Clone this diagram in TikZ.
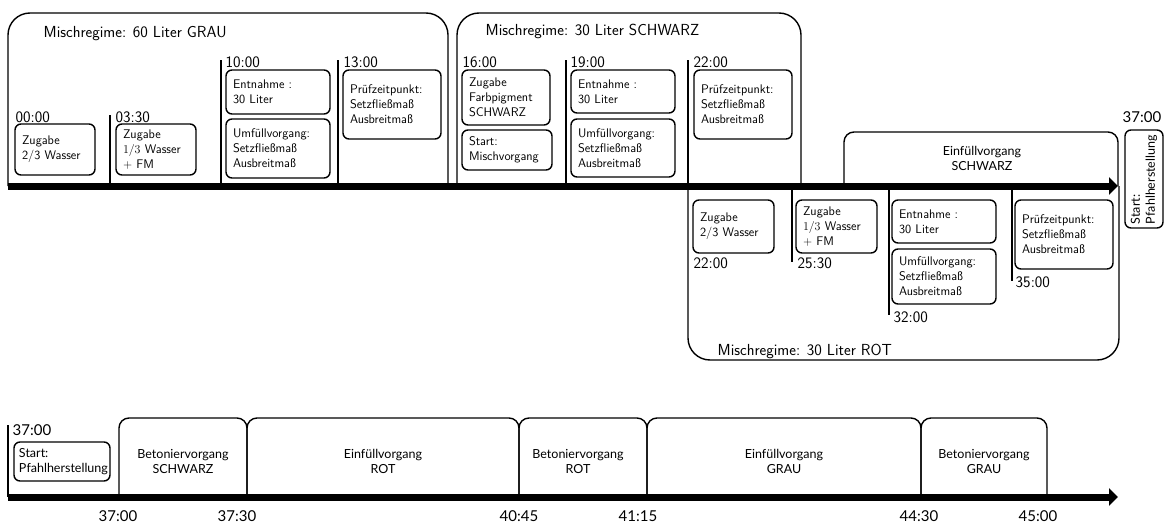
\documentclass[tikz,border=0pt]{standalone}
\usepackage{fontspec}
\newfontfamily\lato{Lato}
\usetikzlibrary{arrows.meta}
\tikzset{
  every picture/.style={line width=1.4pt},
  tbox/.style={draw, rounded corners=6, align=left, inner xsep=7, inner ysep=0,
    font=\sffamily\fontsize{12.5}{15}\selectfont},
  lbox/.style={tbox, inner xsep=5, font=\lato\fontsize{12.5}{15}\selectfont},
  regime/.style={draw, rounded corners=22},
  phase/.style={draw, rounded corners=10},
  tick/.style={draw},
  axis/.style={line width=7, -{Triangle[length=9,width=17]}},
  title/.style={anchor=base west, inner sep=0, font=\sffamily\fontsize{16}{19}\selectfont},
  time/.style={anchor=base west, inner sep=0, font=\sffamily\fontsize{16}{19}\selectfont},
  ltime/.style={anchor=base west, inner sep=0, font=\lato\fontsize{15}{18}\selectfont},
  btime/.style={anchor=base, inner sep=0, font=\lato\fontsize{15}{18}\selectfont},
  ptext/.style={align=center, inner sep=0, font=\lato\fontsize{12.5}{15}\selectfont},
}
\newcommand\mybox[7][tbox]{%
  \pgfmathsetmacro\bw{#5-#3}\pgfmathsetmacro\bh{#6-#4}%
  \pgfmathsetmacro\bcx{(#3+#5)/2}\pgfmathsetmacro\bcy{(#4+#6)/2}%
  \node[#1, text width=\bw pt-14pt, minimum height=\bh pt] (#2) at (\bcx,\bcy) {#7};}
\begin{document}
\begin{tikzpicture}[x=1pt,y=-1pt]
\useasboundingbox (0,0) rectangle (1165,522);

% ---------- top time line ----------
\coordinate (ta) at (8,186);
\coordinate (tb) at (1118,186);

% regime frames
\coordinate (g1) at (8,186);   \coordinate (g2) at (8,13);
\coordinate (g3) at (448,13);  \coordinate (g4) at (448,186);
\draw[regime] (g1) -- (g2) -- (g3) -- (g4);
\coordinate (s1) at (457,186); \coordinate (s2) at (457,13);
\coordinate (s3) at (801,13);  \coordinate (s4) at (801,186);
\draw[regime] (s1) -- (s2) -- (s3) -- (s4);
\coordinate (r1) at (688,186); \coordinate (r2) at (688,360);
\coordinate (r3) at (1119,360); \coordinate (r4) at (1119,186);
\draw[regime] (r1) -- (r2) -- (r3) -- (r4);
\coordinate (e1) at (844,186); \coordinate (e2) at (844,132);
\coordinate (e3) at (1118,132); \coordinate (e4) at (1118,186);
\draw[phase] (e1) -- (e2) -- (e3) -- (e4);

\node[title] (tg) at (43,37) {Mischregime: 60 Liter GRAU};
\node[title] (ts) at (485,35) {Mischregime: 30 Liter SCHWARZ};
\node[title] (tr) at (717,355) {Mischregime: 30 Liter ROT};
\node[ptext] (es) at (982,158) {Einfüllvorgang\\SCHWARZ};

% ticks above
\coordinate (k1a) at (110,115); \coordinate (k1b) at (110,186);
\coordinate (k2a) at (221,60);  \coordinate (k2b) at (221,186);
\coordinate (k3a) at (338,60);  \coordinate (k3b) at (338,186);
\coordinate (k4a) at (566,60);  \coordinate (k4b) at (566,186);
\coordinate (k5a) at (688,60);  \coordinate (k5b) at (688,186);
\draw[tick] (k1a) -- (k1b);
\draw[tick] (k2a) -- (k2b);
\draw[tick] (k3a) -- (k3b);
\draw[tick] (k4a) -- (k4b);
\draw[tick] (k5a) -- (k5b);
% ticks below
\coordinate (m1a) at (792,186);  \coordinate (m1b) at (792,262);
\coordinate (m2a) at (889,186);  \coordinate (m2b) at (889,315);
\coordinate (m3a) at (1012,186); \coordinate (m3b) at (1012,281);
\draw[tick] (m1a) -- (m1b);
\draw[tick] (m2a) -- (m2b);
\draw[tick] (m3a) -- (m3b);

\draw[axis] (ta) -- (tb);

% time labels
\node[time] (t0000) at (15,122) {00:00};
\node[time] (t0330) at (115,122) {03:30};
\node[time] (t1000) at (225,67) {10:00};
\node[time] (t1300) at (343,67) {13:00};
\node[time] (t1600) at (462,67) {16:00};
\node[time] (t1900) at (570,67) {19:00};
\node[time] (t2200) at (693,67) {22:00};
\node[time] (u2200) at (693,268) {22:00};
\node[time] (u2530) at (797,268) {25:30};
\node[time] (u3200) at (893,322) {32:00};
\node[time] (u3500) at (1015,287) {35:00};
\node[ltime] (t3700) at (1122,122) {37:00};

% boxes above
\mybox{a1}{15}{124}{95}{175}{Zugabe\\2/3 Wasser}
\mybox{a2}{116}{124}{196}{175}{Zugabe\\$1/3$ Wasser\\$+$ FM}
\mybox{a3}{226}{70}{330}{114}{Entnahme :\\30 Liter}
\mybox{a4}{226}{119}{330}{178}{Umfüllvorgang:\\Setzfließmaß\\Ausbreitmaß}
\mybox{a5}{343}{70}{441}{139}{Prüfzeitpunkt:\\Setzfließmaß\\Ausbreitmaß}
\mybox{b1}{462}{70}{550}{125}{Zugabe\\Farbpigment\\SCHWARZ}
\mybox{b2}{462}{130}{552}{170}{Start:\\Mischvorgang}
\mybox{b3}{571}{70}{675}{113}{Entnahme :\\30 Liter}
\mybox{b4}{571}{119}{675}{177}{Umfüllvorgang:\\Setzfließmaß\\Ausbreitmaß}
\mybox{b5}{694}{70}{792}{139}{Prüfzeitpunkt:\\Setzfließmaß\\Ausbreitmaß}
% boxes below
\mybox{c1}{693}{200}{774}{253}{Zugabe\\2/3 Wasser}
\mybox{c2}{796}{200}{877}{253}{Zugabe\\$1/3$ Wasser\\$+$ FM}
\mybox{c3}{892}{200}{996}{243}{Entnahme :\\30 Liter}
\mybox{c4}{892}{249}{996}{304}{Umfüllvorgang:\\Setzfließmaß\\Ausbreitmaß}
\mybox{c5}{1015}{200}{1113}{269}{Prüfzeitpunkt:\\Setzfließmaß\\Ausbreitmaß}
% rotated box
\node[lbox, rotate=90, text width=90pt, minimum height=38pt, inner xsep=4] (rs) at (1144,179) {Start:\\Pfahlherstellung};

% ---------- bottom time line ----------
\coordinate (ba) at (8,497);
\coordinate (bb) at (1118,497);
\coordinate (q0a) at (8,425); \coordinate (q0b) at (8,497);
\draw[tick] (q0a) -- (q0b);
\node[ltime] (b3700) at (12,435) {37:00};
\mybox[lbox]{d1}{12}{442}{112}{481}{Start:\\Pfahlherstellung}

\coordinate (p0) at (119,497); \coordinate (p0t) at (119,418);
\coordinate (p1) at (247,497); \coordinate (p1t) at (247,418);
\coordinate (p2) at (519,497); \coordinate (p2t) at (519,418);
\coordinate (p3) at (647,497); \coordinate (p3t) at (647,418);
\coordinate (p4) at (921,497); \coordinate (p4t) at (921,418);
\coordinate (p5) at (1047,497); \coordinate (p5t) at (1047,418);
\draw[phase] (p0) -- (p0t) -- (p1t) -- (p1);
\draw[phase] (p1) -- (p1t) -- (p2t) -- (p2);
\draw[phase] (p2) -- (p2t) -- (p3t) -- (p3);
\draw[phase] (p3) -- (p3t) -- (p4t) -- (p4);
\draw[phase] (p4) -- (p4t) -- (p5t) -- (p5);
\node[ptext] (bs) at (183,461) {Betoniervorgang\\SCHWARZ};
\node[ptext] (er) at (383,461) {Einfüllvorgang\\ROT};
\node[ptext] (br) at (578,461) {Betoniervorgang\\ROT};
\node[ptext] (eg) at (784,461) {Einfüllvorgang\\GRAU};
\node[ptext] (bg) at (984,461) {Betoniervorgang\\GRAU};

\draw[axis] (ba) -- (bb);

\node[btime] (l1) at (118,521) {37:00};
\node[btime] (l2) at (237,521) {37:30};
\node[btime] (l3) at (519,521) {40:45};
\node[btime] (l4) at (638,521) {41:15};
\node[btime] (l5) at (919,521) {44:30};
\node[btime] (l6) at (1038,521) {45:00};
\end{tikzpicture}
\end{document}
